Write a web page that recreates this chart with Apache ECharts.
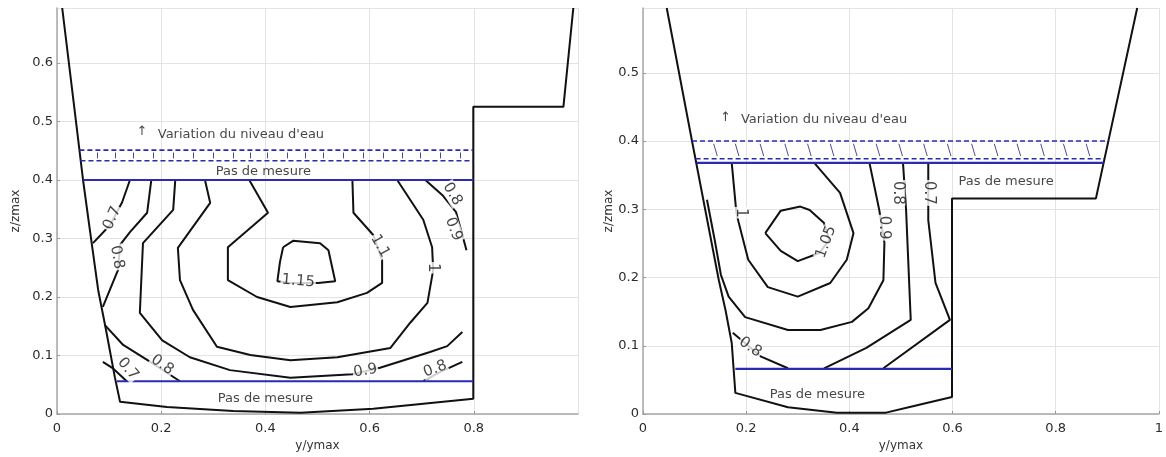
<!DOCTYPE html>
<html><head><meta charset="utf-8">
<script src="https://cdn.jsdelivr.net/npm/echarts@6/dist/echarts.min.js"></script>
<style>html,body{margin:0;padding:0;background:#fff}#c{width:1166px;height:457px}</style>
</head><body><div id="c"></div>
<script>
// ================= DATA (y/ymax , z/zmax) =================
// ---- Left panel ----
const L_channel = [[0.010,0.694],[0.036,0.503],[0.050,0.400],[0.063,0.315],[0.079,0.212],[0.094,0.144],[0.111,0.063],[0.121,0.021],[0.211,0.012],[0.338,0.005],[0.467,0.002],[0.607,0.009],[0.799,0.026],[0.799,0.525],[0.972,0.525],[0.991,0.694]];
const L_c07a = [[0.140,0.400],[0.125,0.362],[0.102,0.323],[0.069,0.292]];
const L_c08a = [[0.181,0.400],[0.173,0.344],[0.140,0.311],[0.121,0.289],[0.117,0.246],[0.088,0.183]];
const L_c09 = [[0.227,0.400],[0.223,0.349],[0.165,0.292],[0.159,0.173],[0.202,0.126],[0.255,0.097],[0.332,0.075],[0.448,0.062],[0.567,0.068],[0.620,0.079],[0.716,0.106],[0.749,0.116],[0.778,0.140]];
const L_c10 = [[0.284,0.400],[0.294,0.361],[0.232,0.284],[0.236,0.229],[0.261,0.178],[0.307,0.115],[0.371,0.101],[0.448,0.092],[0.538,0.097],[0.640,0.113],[0.678,0.156],[0.711,0.190],[0.722,0.246],[0.720,0.285],[0.703,0.332],[0.653,0.400]];
const L_c11 = [[0.369,0.400],[0.405,0.344],[0.328,0.285],[0.328,0.229],[0.384,0.200],[0.448,0.183],[0.538,0.191],[0.595,0.207],[0.624,0.224],[0.624,0.263],[0.607,0.306],[0.569,0.344],[0.567,0.400]];
const L_c115 = [[0.434,0.285],[0.453,0.296],[0.505,0.292],[0.521,0.280],[0.534,0.227],[0.501,0.224],[0.448,0.224],[0.423,0.227],[0.428,0.260],[0.434,0.285]];
const L_cWall = [[0.707,0.400],[0.741,0.373],[0.766,0.345],[0.778,0.306],[0.786,0.280]];
const L_c08b = [[0.092,0.152],[0.127,0.118],[0.179,0.089],[0.236,0.056]];
const L_c08c = [[0.703,0.056],[0.736,0.072],[0.778,0.089]];
const L_c07b = [[0.088,0.089],[0.106,0.079],[0.134,0.056]];
const L_measTop = [[0.050,0.400],[0.799,0.400]];
const L_measBot = [[0.115,0.056],[0.799,0.056]];
const L_waterHigh = [[0.043,0.451],[0.799,0.451]];
const L_waterLow = [[0.045,0.433],[0.799,0.433]];
const L_hatch = [0.077,0.111,0.146,0.184,0.223,0.261,0.300,0.338,0.371,0.403,0.442,0.476,0.511,0.549,0.588,0.626,0.663,0.697,0.736,0.774];
const L_contourLabels = [[0.106,0.335,'0.7'],[0.115,0.268,'0.8'],[0.759,0.376,'0.8'],[0.761,0.316,'0.9'],[0.620,0.287,'1.1'],[0.463,0.227,'1.15'],[0.722,0.250,'1'],[0.136,0.077,'0.7'],[0.202,0.084,'0.8'],[0.592,0.074,'0.9'],[0.726,0.077,'0.8']];
const L_notes = [[0.163,0.482,'↑'],[0.353,0.477,"Variation du niveau d'eau"],[0.396,0.414,'Pas de mesure'],[0.400,0.026,'Pas de mesure']];

// ---- Right panel ----
const R_channel = [[0.046,0.595],[0.095,0.400],[0.147,0.196],[0.160,0.152],[0.172,0.104],[0.179,0.031],[0.281,0.010],[0.376,0.002],[0.471,0.002],[0.515,0.010],[0.599,0.025],[0.599,0.316],[0.878,0.316],[0.958,0.595]];
const R_c10 = [[0.172,0.368],[0.181,0.295],[0.185,0.282],[0.204,0.226],[0.242,0.186],[0.300,0.172],[0.363,0.192],[0.395,0.226],[0.408,0.265],[0.382,0.324],[0.332,0.368]];
const R_c105 = [[0.237,0.265],[0.267,0.298],[0.305,0.304],[0.323,0.299],[0.351,0.280],[0.361,0.255],[0.342,0.236],[0.300,0.224],[0.267,0.239],[0.237,0.265]];
const R_c09 = [[0.124,0.314],[0.139,0.255],[0.151,0.204],[0.166,0.172],[0.198,0.142],[0.281,0.123],[0.344,0.123],[0.405,0.135],[0.437,0.155],[0.466,0.196],[0.468,0.251],[0.458,0.299],[0.439,0.368]];
const R_c08a = [[0.504,0.368],[0.510,0.299],[0.519,0.138],[0.433,0.097],[0.351,0.067]];
const R_c08b = [[0.174,0.119],[0.229,0.084],[0.281,0.067]];
const R_c07 = [[0.553,0.368],[0.553,0.284],[0.567,0.192],[0.595,0.138],[0.466,0.067]];
const R_measTop = [[0.104,0.368],[0.893,0.368]];
const R_measBot = [[0.179,0.066],[0.599,0.066]];
const R_waterHigh = [[0.095,0.400],[0.902,0.400]];
const R_waterLow = [[0.102,0.374],[0.894,0.374]];
const R_hatch = [0.137,0.179,0.227,0.275,0.319,0.363,0.408,0.452,0.496,0.544,0.590,0.637,0.681,0.725,0.771,0.815,0.859];
const R_contourLabels = [[0.189,0.295,'1'],[0.355,0.252,'1.05'],[0.466,0.273,'0.9'],[0.494,0.324,'0.8'],[0.555,0.324,'0.7'],[0.208,0.098,'0.8']];
const R_notes = [[0.160,0.435,'↑'],[0.351,0.431,"Variation du niveau d'eau"],[0.704,0.340,'Pas de mesure'],[0.338,0.029,'Pas de mesure']];

// axis ranges / ticks
const xRange = [0, 1], xStep = 0.2;
const L_zMax = 0.694, R_zMax = 0.595, zStep = 0.1;

// ================= STYLE =================
const L_labelRot = [66,-80,-60,-70,-60,-5,-90,-50,-35,10,20];
const R_labelRot = [-90,70,-90,-90,-90,-35];
const FONT = 'DejaVu Sans';
const BLACK = '#111', BLUE = '#2b2bb0', LW = 2;

function poly(data, gi, color, width, type) {
  return {type:'line', xAxisIndex:gi, yAxisIndex:gi, data, showSymbol:false, symbol:'none',
    silent:true, clip:true, z:3, lineStyle:{color, width, type: type || 'solid'}};
}
function hatch(xs, low, high, gi, slant) {
  return {type:'lines', coordinateSystem:'cartesian2d', xAxisIndex:gi, yAxisIndex:gi, silent:true, z:2,
    lineStyle:{color:'#4a4f8a', width:1, opacity:1},
    data: xs.map(x => ({coords:[[x, high[0][1]-0.004],[x+slant, low[0][1]+0.004]]}))};
}
function texts(items, rots, gi, size, bg) {
  return {type:'scatter', xAxisIndex:gi, yAxisIndex:gi, symbolSize:1, silent:true, z:6,
    itemStyle:{color:'rgba(0,0,0,0)'},
    data: items.map((d,i)=>({value:[d[0],d[1]], name:d[2], label:{rotate: rots ? rots[i] : 0}})),
    label:{show:true, position:'inside', formatter:'{b}', color:'#151515', fontSize:size, fontFamily:FONT,
      backgroundColor: bg ? '#fff' : 'transparent', padding: bg ? [0,1] : 0}};
}
function xAx(gi, hideMax) {
  return {type:'value', gridIndex:gi, min:xRange[0], max:xRange[1], interval:xStep,
    name:'y/ymax', nameLocation:'middle', nameGap:24,
    nameTextStyle:{fontSize:12, color:'#333', fontFamily:FONT},
    axisLine:{show:true, lineStyle:{color:'#a8a8a8', width:1.5}},
    axisTick:{show:true, inside:true, length:3, lineStyle:{color:'#999'}},
    axisLabel:{color:'#2b2b2b', fontSize:13, fontFamily:FONT, margin:8, showMaxLabel: !hideMax},
    splitLine:{show:true, lineStyle:{color:'#e3e3e3', width:1}}};
}
function yAx(gi, max, gap) {
  return {type:'value', gridIndex:gi, min:0, max:max, interval:zStep,
    name:'z/zmax', nameLocation:'middle', nameGap:gap,
    nameTextStyle:{fontSize:12, color:'#333', fontFamily:FONT},
    axisLine:{show:true, lineStyle:{color:'#a8a8a8', width:1.5}},
    axisTick:{show:true, inside:true, length:3, lineStyle:{color:'#999'}},
    axisLabel:{color:'#2b2b2b', fontSize:13, fontFamily:FONT, margin:4, showMaxLabel:false},
    splitLine:{show:true, lineStyle:{color:'#e3e3e3', width:1}}};
}

const series = [
  // left
  poly(L_channel,0,BLACK,LW),
  poly(L_c07a,0,BLACK,LW), poly(L_c08a,0,BLACK,LW), poly(L_c09,0,BLACK,LW),
  poly(L_c10,0,BLACK,LW), poly(L_c11,0,BLACK,LW), poly(L_c115,0,BLACK,LW),
  poly(L_cWall,0,BLACK,LW), poly(L_c08b,0,BLACK,LW), poly(L_c08c,0,BLACK,LW), poly(L_c07b,0,BLACK,LW),
  poly(L_measTop,0,BLUE,2.2), poly(L_measBot,0,BLUE,2.2),
  poly(L_waterHigh,0,BLUE,1.6,[5,3]), poly(L_waterLow,0,BLUE,1.6,[5,3]),
  hatch(L_hatch, L_waterLow, L_waterHigh, 0, 0),
  texts(L_contourLabels, L_labelRot, 0, 15, true),
  texts(L_notes, null, 0, 13, false),
  // right
  poly(R_channel,1,BLACK,LW),
  poly(R_c10,1,BLACK,LW), poly(R_c105,1,BLACK,LW), poly(R_c09,1,BLACK,LW),
  poly(R_c08a,1,BLACK,LW), poly(R_c08b,1,BLACK,LW), poly(R_c07,1,BLACK,LW),
  poly(R_measTop,1,BLUE,2.2), poly(R_measBot,1,BLUE,2.2),
  poly(R_waterHigh,1,BLUE,1.6,[5,3]), poly(R_waterLow,1,BLUE,1.6,[5,3]),
  hatch(R_hatch, R_waterLow, R_waterHigh, 1, 0.007),
  texts(R_contourLabels, R_labelRot, 1, 15, true),
  texts(R_notes, null, 1, 13, false)
];

const chart = echarts.init(document.getElementById('c'), null, {renderer:'canvas'});
chart.setOption({
  animation:false,
  backgroundColor:'#fff',
  grid:[{left:57, top:8, width:521, bottom:43}, {left:643, top:8, width:524, bottom:43}],
  xAxis:[xAx(0,true), xAx(1,false)],
  yAxis:[yAx(0,L_zMax,35), yAx(1,R_zMax,28)],
  series
});
</script></body></html>
